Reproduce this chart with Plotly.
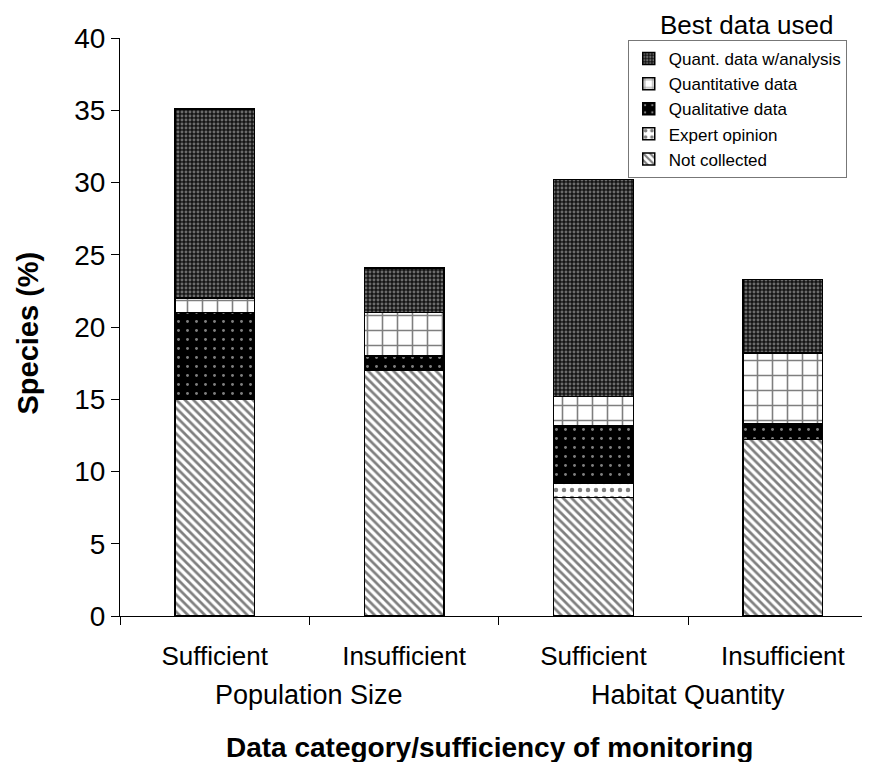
import plotly.graph_objects as go

categories = ["Sufficient", "Insufficient", "Sufficient", "Insufficient"]
groups = ["Population Size", "Habitat Quantity"]
not_collected = [15.0, 17.0, 8.2, 12.2]
expert_opinion = [0.0, 0.0, 1.0, 0.0]
qualitative = [6.0, 1.0, 4.0, 1.1]
quantitative = [1.0, 3.0, 2.0, 4.9]
quant_analysis = [13.1, 3.1, 15.0, 5.1]

x = list(range(len(categories)))
FONT = "Liberation Sans, Arial, sans-serif"

series = [
    ("Not collected", not_collected, dict(shape="\\", fgcolor="black", bgcolor="white", size=6, solidity=0.45)),
    ("Expert opinion", expert_opinion, dict(shape=".", fgcolor="black", bgcolor="white", size=8, solidity=0.25)),
    ("Qualitative data", qualitative, dict(shape=".", fgcolor="white", bgcolor="black", size=9, solidity=0.08)),
    ("Quantitative data", quantitative, dict(shape="+", fgcolor="black", bgcolor="white", size=15, solidity=0.2)),
    ("Quant. data w/analysis", quant_analysis, dict(shape=".", fgcolor="#c4c4c4", bgcolor="#151515", size=4, solidity=0.42)),
]

fig = go.Figure()
for name, vals, pat in series:
    fig.add_trace(go.Bar(
        x=x, y=vals, name=name, width=0.42,
        marker=dict(color="white", line=dict(color="black", width=1.5), pattern=pat),
    ))

fig.update_layout(
    barmode="stack",
    width=870, height=762,
    paper_bgcolor="white", plot_bgcolor="white",
    margin=dict(l=112, r=8, t=30, b=154, autoexpand=False),
    font=dict(family=FONT, color="black"),
    showlegend=True,
    legend=dict(
        traceorder="reversed",
        x=0.677, y=0.9965, xanchor="left", yanchor="top",
        bgcolor="white", bordercolor="#777", borderwidth=1,
        font=dict(size=17, family=FONT),
        itemwidth=30, tracegroupgap=0,
    ),
    xaxis=dict(
        range=[-0.5, 3.46],
        tickvals=x, ticktext=categories,
        ticks="", showline=True, linecolor="black", linewidth=1,
        tickfont=dict(size=26), showgrid=False, zeroline=False,
        ticklabelstandoff=17,
        minor=dict(tickvals=[-0.5, 0.5, 1.5, 2.5, 3.5], ticks="outside", ticklen=8, tickcolor="black", showgrid=False),
    ),
    yaxis=dict(
        range=[0, 40], dtick=5,
        ticks="outside", ticklen=8, tickcolor="black",
        showline=True, linecolor="black", linewidth=1,
        tickfont=dict(size=28), showgrid=False, zeroline=False,
    ),
    annotations=[
        dict(text="Population Size", x=0.5, xref="x", y=-0.137, yref="paper", showarrow=False,
             font=dict(size=27), xanchor="center", yanchor="middle"),
        dict(text="Habitat Quantity", x=2.5, xref="x", y=-0.137, yref="paper", showarrow=False,
             font=dict(size=27), xanchor="center", yanchor="middle"),
        dict(text="<b>Data category/sufficiency of monitoring</b>", x=0.493, xref="paper", y=-0.228, yref="paper",
             showarrow=False, font=dict(size=28), xanchor="center", yanchor="middle"),
        dict(text="<b>Species (%)</b>", x=-0.123, xref="paper", y=0.49, yref="paper", textangle=-90,
             showarrow=False, font=dict(size=29), xanchor="center", yanchor="middle"),
        dict(text="Best data used", x=0.835, xref="paper", y=1.022, yref="paper",
             showarrow=False, font=dict(size=26), xanchor="center", yanchor="middle"),
    ],
)

fig.write_html("out.html")
